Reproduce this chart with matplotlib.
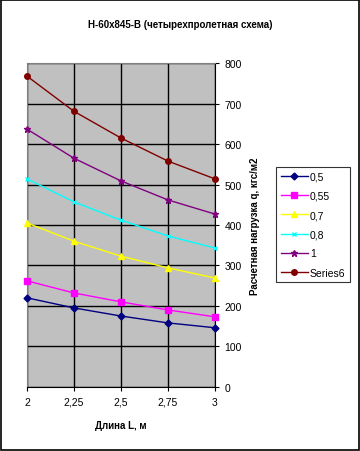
import matplotlib
matplotlib.use('Agg')
import matplotlib.pyplot as plt
import matplotlib.patches as patches

plt.rcParams['font.family'] = ['Liberation Sans', 'DejaVu Sans']

# data
lengths = [2, 2.25, 2.5, 2.75, 3]
x_labels = ['2', '2,25', '2,5', '2,75', '3']
names = ['0,5', '0,55', '0,7', '0,8', '1', 'Series6']
q_05 = [220, 195, 175, 158, 146]
q_055 = [262, 232, 210, 190, 173]
q_07 = [405, 360, 323, 294, 269]
q_08 = [514, 457, 412, 373, 343]
q_1 = [637, 565, 509, 462, 427]
q_s6 = [768, 681, 615, 558, 514]

series = [q_05, q_055, q_07, q_08, q_1, q_s6]
colors = ['#000080', '#FF00FF', '#FFFF00', '#00FFFF', '#800080', '#800000']
markers = ['D', 's', '^', 'x', '*', 'o']
msizes = [3.5, 4.5, 4.5, 3.5, 4.5, 4]

fig = plt.figure(figsize=(3.6, 4.52), dpi=100)
fig.patches.append(patches.Rectangle((0.002, 0.002), 0.995, 0.995, transform=fig.transFigure,
                                     fill=False, edgecolor='black', linewidth=1.2))
ax = fig.add_axes([0.075, 0.142, 0.522, 0.716])
ax.set_facecolor('#C0C0C0')

for i in range(len(series)):
	ax.plot(lengths, series[i], color=colors[i], marker=markers[i], markersize=msizes[i],
	        linewidth=1, label=names[i], clip_on=False, zorder=3)

ax.set_xlim(2, 3)
ax.set_ylim(0, 800)
ax.set_xticks(lengths)
ax.set_xticklabels(x_labels)
ax.set_yticks(range(0, 801, 100))
ax.yaxis.tick_right()
ax.yaxis.set_label_position('right')
ax.grid(True, color='black', linewidth=1)
ax.set_axisbelow(True)
for s in ax.spines.values():
	s.set_color('#808080')
ax.spines['bottom'].set_color('black')
ax.spines['right'].set_color('black')
ax.tick_params(axis='both', labelsize=7.5, length=3, direction='out', pad=4)

ax.set_xlabel('Длина L, м', fontsize=7, fontweight='bold', labelpad=10)
ax.set_ylabel('Расчетная нагрузка q, кгс/м2', fontsize=7, fontweight='bold', labelpad=6)
fig.text(0.5, 0.945, 'Н-60х845-В (четырехпролетная схема)', ha='center', va='center',
         fontsize=7, fontweight='bold')

lgd = ax.legend(loc='upper left', bbox_to_anchor=(276 / 360, 1 - 168 / 452),
                bbox_transform=fig.transFigure, fontsize=7.5, frameon=True,
                fancybox=False, edgecolor='black', borderpad=0.45, labelspacing=0.88,
                handlelength=2.6, handletextpad=0.2, borderaxespad=0)
lgd.get_frame().set_linewidth(0.8)

plt.savefig('out.png', dpi=100)
